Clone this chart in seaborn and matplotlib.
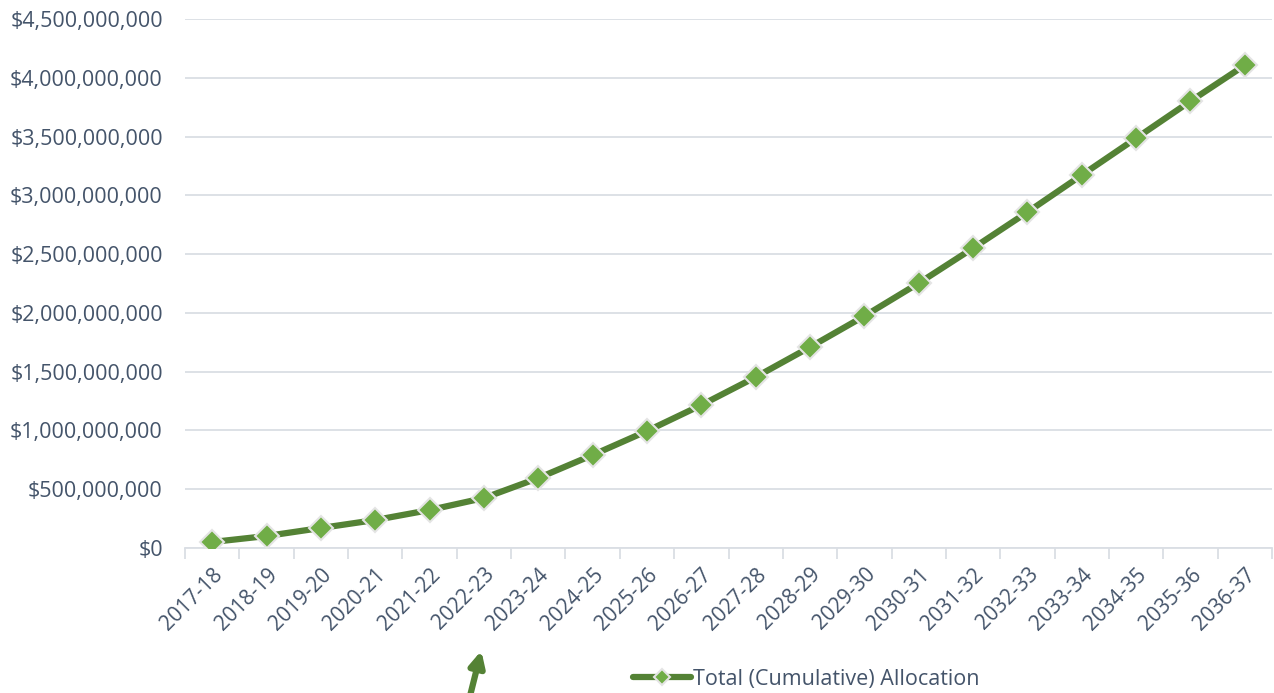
import seaborn as sns
import matplotlib.pyplot as plt
import matplotlib.ticker as mticker
import pandas as pd
import numpy as np

# Data
years = ["2017-18", "2018-19", "2019-20", "2020-21", "2021-22", "2022-23",
         "2023-24", "2024-25", "2025-26", "2026-27", "2027-28", "2028-29",
         "2029-30", "2030-31", "2031-32", "2032-33", "2033-34", "2034-35",
         "2035-36", "2036-37"]
allocation = [51e6, 102e6, 170e6, 238e6, 323e6, 425e6, 595e6, 791e6, 995e6,
              1216e6, 1454e6, 1709e6, 1973e6, 2253e6, 2551e6, 2857e6, 3172e6,
              3486e6, 3801e6, 4107e6]
series_name = "Total (Cumulative) Allocation"

df = pd.DataFrame({"Year": years, "Allocation": allocation})
df["pos"] = np.arange(len(years))

sns.set_style("white")
plt.rcParams["font.family"] = ["Open Sans", "DejaVu Sans"]

text_col = "#44546A"
line_col = "#548235"
fill_col = "#70AD47"
grid_col = "#DADEE4"

fig = plt.figure(figsize=(12.74, 6.93), dpi=100)
ax = fig.add_axes([185 / 1274, 1 - 548 / 693, (1272 - 185) / 1274, (548 - 19) / 693])

sns.lineplot(data=df, x="pos", y="Allocation", ax=ax, color=line_col, lw=4.5,
             marker="D", markersize=12, markerfacecolor=fill_col,
             markeredgecolor="#E4E4E4", markeredgewidth=1.5, label=series_name,
             legend=False, zorder=3)

ax.set_xlim(-0.5, len(years) - 0.5)
ax.set_ylim(0, 4.5e9)
ax.yaxis.set_major_locator(mticker.MultipleLocator(5e8))
ax.yaxis.set_major_formatter(mticker.FuncFormatter(lambda v, p: f"${v:,.0f}"))
ax.grid(axis="y", color=grid_col, lw=1.3)
ax.set_axisbelow(True)

ax.set_xticks(df["pos"])
ax.set_xticklabels(years, rotation=45, ha="right", rotation_mode="anchor")
ax.set_xticks(np.arange(-0.5, len(years)), minor=True)
ax.tick_params(axis="x", which="major", bottom=False, pad=8, labelsize=15, labelcolor=text_col)
ax.tick_params(axis="x", which="minor", bottom=True, length=8, width=1.3, color=grid_col)
ax.tick_params(axis="y", length=0, pad=16, labelsize=15.5, labelcolor=text_col)

for s in ["top", "right", "left"]:
    ax.spines[s].set_visible(False)
ax.spines["bottom"].set_color(grid_col)
ax.spines["bottom"].set_linewidth(1.3)
ax.set_xlabel("")
ax.set_ylabel("")

handles, labels = ax.get_legend_handles_labels()
fig.legend(handles, labels, loc="center", bbox_to_anchor=(806 / 1274, 1 - 679 / 693),
           frameon=False, fontsize=15.5, labelcolor=text_col, handlelength=2.7,
           handletextpad=0.1, markerscale=0.7)

# arrow pointing at 2022-23
ax.annotate("", xy=(482 / 1274, 1 - 648 / 693), xycoords="figure fraction",
            xytext=(469 / 1274, 1 - 700 / 693), textcoords="figure fraction",
            arrowprops=dict(arrowstyle="-|>,head_length=0.9,head_width=0.45",
                            color="#548235", lw=4.5),
            annotation_clip=False)

fig.savefig("out.png", dpi=100)
plt.close()
